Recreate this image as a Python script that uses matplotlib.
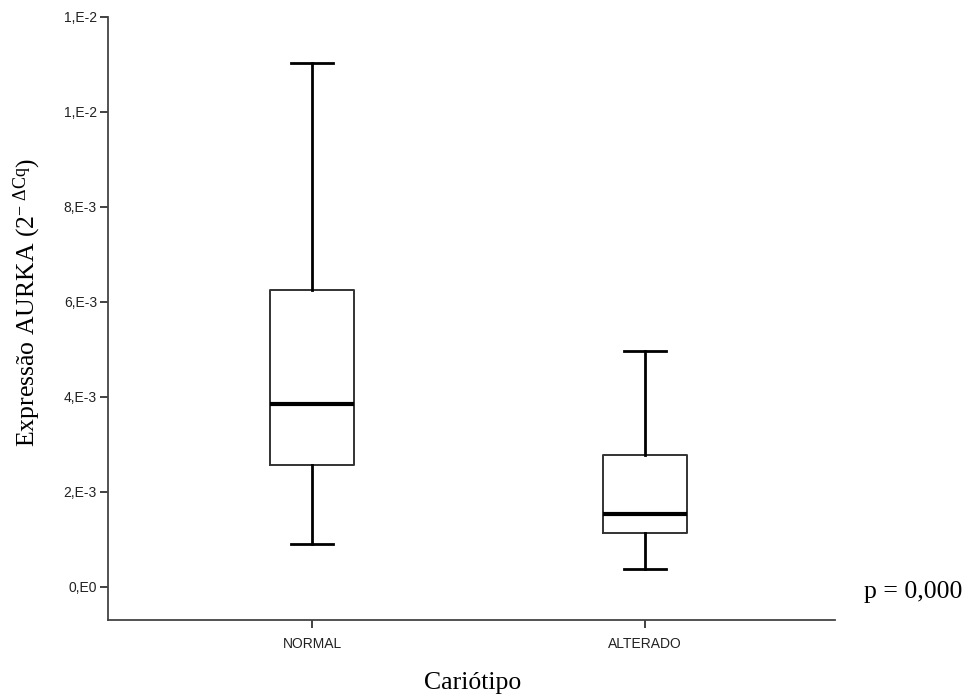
import matplotlib
matplotlib.use("Agg")
import matplotlib.pyplot as plt

plt.rcParams['mathtext.fontset'] = 'custom'
plt.rcParams['mathtext.rm'] = 'Liberation Serif'
plt.rcParams['mathtext.it'] = 'Liberation Serif:italic'

# Box summary per karyotype group
categories = ["NORMAL", "ALTERADO"]
whisker_low = [0.000899, 0.000379]
q1 = [0.002568, 0.001143]
median = [0.003846, 0.001537]
q3 = [0.006253, 0.002773]
whisker_high = [0.011025, 0.004975]

ytick_values = [0.0, 0.002, 0.004, 0.006, 0.008, 0.010, 0.012]
ytick_labels = ["0,E0", "2,E-3", "4,E-3", "6,E-3", "8,E-3", "1,E-2", "1,E-2"]

stats = []
for i, name in enumerate(categories):
    stats.append(dict(label=name, whislo=whisker_low[i], q1=q1[i],
                      med=median[i], q3=q3[i], whishi=whisker_high[i],
                      fliers=[]))

fig = plt.figure(figsize=(9.66, 6.97), dpi=100)
W, H = 966, 697
left, right, top, bottom = 108, 835, 17, 620
ax = fig.add_axes([left / W, 1 - bottom / H, (right - left) / W, (bottom - top) / H])

ax.bxp(stats, positions=[1, 2], widths=0.252, showfliers=False,
       boxprops=dict(color="#333333", linewidth=1.4),
       medianprops=dict(color="black", linewidth=3.0),
       whiskerprops=dict(color="black", linewidth=2.0),
       capprops=dict(color="black", linewidth=2.0),
       capwidths=0.126)

ax.set_xlim(1 - 204 / 333, 2 + 190 / 333)
ax.set_ylim(-0.000695, 0.012)

ax.set_yticks(ytick_values)
ax.set_yticklabels(ytick_labels, fontname="Liberation Sans", fontsize=10, color="#222222")
ax.set_xticks([1, 2])
ax.set_xticklabels(categories, fontname="Liberation Sans", fontsize=10, color="#222222")
ax.tick_params(axis="y", length=6, width=1.3, color="#333333", pad=2)
ax.tick_params(axis="x", length=6, width=1.3, color="#333333", pad=6)

for side in ("top", "right"):
    ax.spines[side].set_visible(False)
for side in ("left", "bottom"):
    ax.spines[side].set_color("#444444")
    ax.spines[side].set_linewidth(1.3)

fig.text(27 / W, 1 - 302 / H, r"Expressão AURKA (2$^{\mathrm{-\ \Delta Cq}}$)",
         rotation=90, ha="center", va="center",
         fontname="Liberation Serif", fontsize=18.5)
fig.text(473 / W, 1 - 683 / H, "Cariótipo", ha="center", va="center",
         fontname="Liberation Serif", fontsize=18.5)
fig.text(913 / W, 1 - 592 / H, "p = 0,000", ha="center", va="center",
         fontname="Liberation Serif", fontsize=18.5)

fig.savefig("out.png", dpi=100)
